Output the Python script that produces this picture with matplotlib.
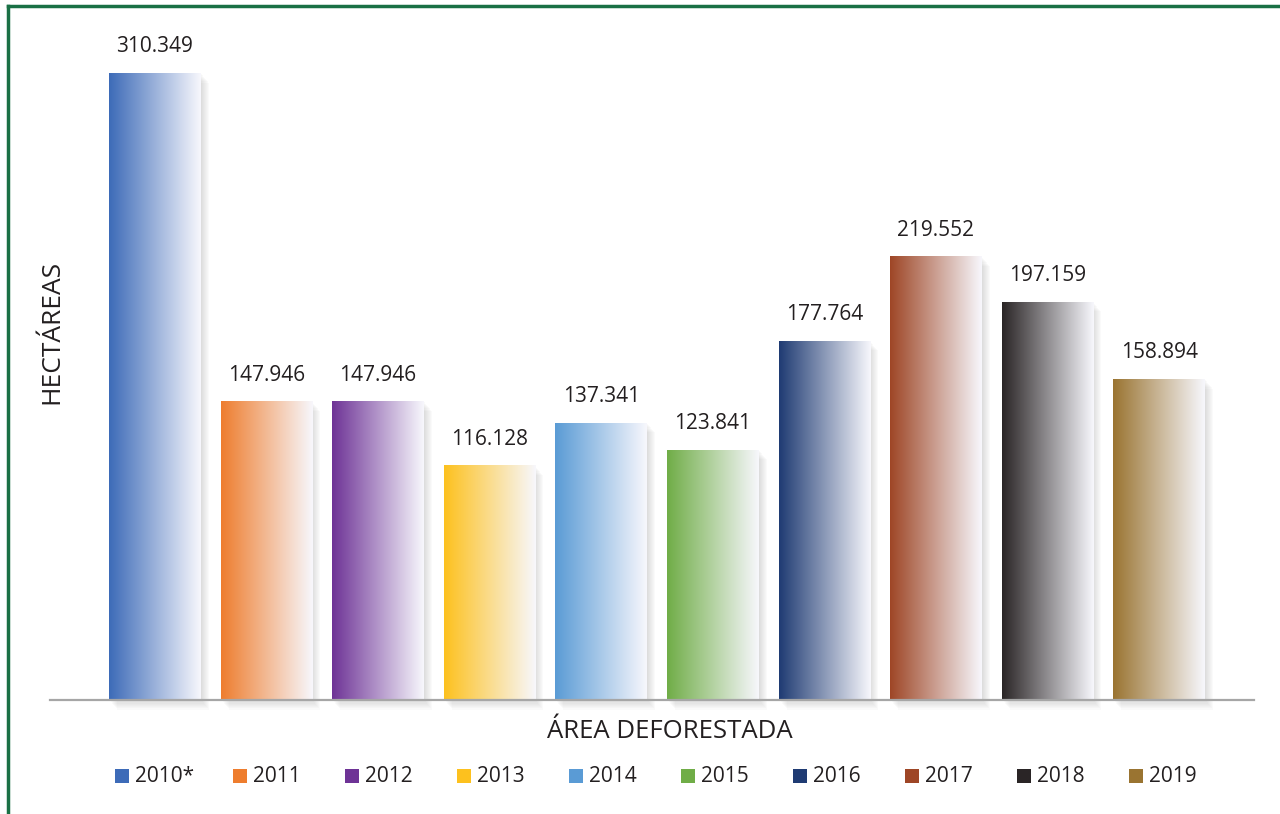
import numpy as np
import matplotlib
matplotlib.use("Agg")
import matplotlib.pyplot as plt
from matplotlib.colors import to_rgb
from matplotlib.patches import Rectangle
from matplotlib.lines import Line2D
import matplotlib.transforms as mtransforms

# datos: área deforestada (hectáreas) por año
years = ['2010*', '2011', '2012', '2013', '2014', '2015', '2016', '2017', '2018', '2019']
hectareas = [310349, 147946, 147946, 116128, 137341, 123841, 177764, 219552, 197159, 158894]
colores = ['#3d6bb8', '#ee7d2e', '#6e3396', '#fdc11e', '#5a9bd5',
           '#70ad47', '#1f3b73', '#9e4626', '#2a2526', '#9a7431']

plt.rcParams['font.family'] = ['Open Sans', 'DejaVu Sans']

fig = plt.figure(figsize=(12.8, 8.14), dpi=100)
ax = fig.add_axes([50 / 1280, 1 - 700 / 814, (1254 - 50) / 1280, (700 - 30) / 814])

x = np.arange(len(years))
bars = ax.bar(x, hectareas, width=0.82, color='none', zorder=3)

# px -> unidades de datos
px_x = 1 / 111.6
px_y = 310349 / 627

for bar, c in zip(bars, colores):
    x0, y0, w, h = bar.get_x(), bar.get_y(), bar.get_width(), bar.get_height()
    # sombra difusa
    for k in range(1, 9):
        sh = Rectangle((x0 + k * px_x, y0 - k * 1.2 * px_y), w, h,
                       facecolor='#888888', alpha=0.035, edgecolor='none',
                       zorder=2, clip_on=False)
        ax.add_patch(sh)
    # degradado horizontal color -> blanco
    g = np.linspace(0, 1, 256)[:, None]
    rgb = np.array(to_rgb(c))
    fin = np.array([0.97, 0.97, 0.99])
    img = ((1 - g) * rgb + g * fin)[None, :, :]
    im = ax.imshow(img, extent=[x0, x0 + w, y0, y0 + h], aspect='auto',
                   zorder=3, interpolation='bilinear')
    im.set_clip_path(bar)
    etiqueta = f"{h:,.0f}".replace(',', '.')
    ax.text(x0 + w / 2, h + 26 * px_y, etiqueta, ha='center', va='center',
            fontsize=15, color='#231f20', zorder=4)

ax.set_xlim(-0.94, 9.85)
ax.set_ylim(0, 670 * px_y)
for s in ['top', 'right', 'left']:
    ax.spines[s].set_visible(False)
ax.spines['bottom'].set_color('#a6a6a6')
ax.spines['bottom'].set_linewidth(1.6)
ax.spines['bottom'].set_zorder(5)
ax.set_xticks([])
ax.set_yticks([])

fig.text(52 / 1280, 1 - 332 / 814, 'HECTÁREAS', rotation=90, ha='center', va='center',
         fontsize=19, color='#231f20')
fig.text(670 / 1280, 1 - 731 / 814, 'ÁREA DEFORESTADA', ha='center', va='center',
         fontsize=18.5, color='#231f20')

# leyenda manual, una entrada bajo cada barra
trans = mtransforms.blended_transform_factory(ax.transData, fig.transFigure)
ly = 1 - 776 / 814
for i, (yr, c) in enumerate(zip(years, colores)):
    desp = -40 if i == 0 else -34 + 0.4 * i
    xs = i + desp * px_x
    ax.add_patch(Rectangle((xs, ly - 7 / 814), 14 * px_x, 14 / 814, transform=trans,
                           facecolor=c, edgecolor='none', clip_on=False))
    ax.text(xs + 20 * px_x, ly, yr, transform=trans, ha='left', va='center',
            fontsize=15, color='#231f20')

# marco verde
fig.add_artist(Line2D([8 / 1280, 1], [1 - 6 / 814, 1 - 6 / 814], color='#1a7045', linewidth=2.5))
fig.add_artist(Line2D([8 / 1280, 8 / 1280], [0, 1 - 6 / 814], color='#1a7045', linewidth=2.5))

fig.savefig('out.png', dpi=100)
